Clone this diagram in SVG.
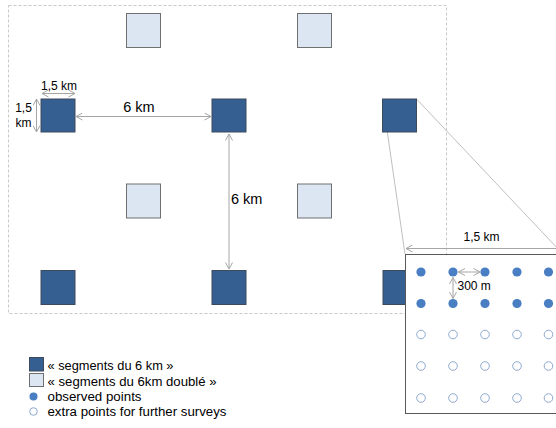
<svg xmlns="http://www.w3.org/2000/svg" width="556" height="428" viewBox="0 0 556 428">
<defs>
<style>
.dark{fill:#355E91;stroke:#3D4A5C;stroke-width:1}
.light{fill:#DCE6F2;stroke:#707070;stroke-width:1}
.dim{stroke:#A6A6A6;stroke-width:1;fill:none;marker-start:url(#ah);marker-end:url(#ah)}
.zoom{stroke:#BFBFBF;stroke-width:1;fill:none}
.lbl{font-family:"Liberation Sans",Arial,sans-serif;fill:#000}
.leg{font-family:"Liberation Sans",Arial,sans-serif;font-size:13.5px;fill:#000}
.obs{fill:#4A7EC2}
.ext{fill:#fff;stroke:#8EA9D0;stroke-width:1}
</style>
<marker id="ah" viewBox="0 0 8 8" refX="7.5" refY="4" markerWidth="8" markerHeight="8" markerUnits="userSpaceOnUse" orient="auto-start-reverse">
<path d="M1,0.5 L7.5,4 L1,7.5" fill="none" stroke="#A6A6A6" stroke-width="1"/>
</marker>
</defs>
<rect width="556" height="428" fill="#fff"/>
<rect id="frame" x="8.5" y="5.5" width="438" height="308" fill="none" stroke="#C8C8C8" stroke-width="1" stroke-dasharray="3,2"/>

<g id="connectors">
<line class="zoom" x1="382.5" y1="99" x2="405" y2="254"/>
<line class="zoom" x1="416.5" y1="99" x2="560" y2="251"/>
<line class="dim" x1="42" y1="93.5" x2="75" y2="93.5"/>
<line class="dim" x1="36.5" y1="99" x2="36.5" y2="132"/>
<line class="dim" x1="76" y1="116.5" x2="211" y2="116.5"/>
<line class="dim" x1="229" y1="134" x2="229" y2="269"/>
</g>

<g id="seg-dark">
<rect class="dark" x="41" y="99" width="34" height="33"/>
<rect class="dark" x="212" y="99" width="34" height="33"/>
<rect class="dark" x="382.5" y="99" width="34" height="33"/>
<rect class="dark" x="41" y="270.5" width="34" height="34"/>
<rect class="dark" x="212" y="270.5" width="34" height="34"/>
<rect class="dark" x="383" y="270.5" width="34" height="34"/>
</g>
<g id="seg-light">
<rect class="light" x="126.5" y="13.5" width="34" height="34"/>
<rect class="light" x="297.5" y="13.5" width="34" height="34"/>
<rect class="light" x="126.5" y="184" width="34" height="34"/>
<rect class="light" x="297.5" y="184" width="34" height="34"/>
</g>

<g id="labels">
<text class="lbl" x="59" y="89.5" font-size="12" text-anchor="middle">1,5 km</text>
<text class="lbl" x="23.5" y="111.5" font-size="12" text-anchor="middle">1,5</text>
<text class="lbl" x="23.5" y="127" font-size="12" text-anchor="middle">km</text>
<text class="lbl" x="139" y="111.5" font-size="14.5" text-anchor="middle">6 km</text>
<text class="lbl" x="231" y="203.5" font-size="14.5">6 km</text>
</g>

<g id="inset">
<rect x="405.5" y="254.5" width="160" height="159" fill="#fff" stroke="#595959" stroke-width="1"/>
<line class="dim" x1="406" y1="248.5" x2="566" y2="248.5"/>
<text class="lbl" x="481.5" y="241" font-size="12" text-anchor="middle">1,5 km</text>
<g id="observed">
<circle class="obs" cx="421" cy="272" r="4.6"/>
<circle class="obs" cx="453" cy="272" r="4.6"/>
<circle class="obs" cx="485" cy="272" r="4.6"/>
<circle class="obs" cx="517" cy="272" r="4.6"/>
<circle class="obs" cx="548.5" cy="272" r="4.6"/>
<circle class="obs" cx="421" cy="303.5" r="4.6"/>
<circle class="obs" cx="453" cy="303.5" r="4.6"/>
<circle class="obs" cx="485" cy="303.5" r="4.6"/>
<circle class="obs" cx="517" cy="303.5" r="4.6"/>
<circle class="obs" cx="548.5" cy="303.5" r="4.6"/>
</g>
<g id="extra">
<circle class="ext" cx="421" cy="334.5" r="4.3"/>
<circle class="ext" cx="453" cy="334.5" r="4.3"/>
<circle class="ext" cx="485" cy="334.5" r="4.3"/>
<circle class="ext" cx="517" cy="334.5" r="4.3"/>
<circle class="ext" cx="548.5" cy="334.5" r="4.3"/>
<circle class="ext" cx="421" cy="366" r="4.3"/>
<circle class="ext" cx="453" cy="366" r="4.3"/>
<circle class="ext" cx="485" cy="366" r="4.3"/>
<circle class="ext" cx="517" cy="366" r="4.3"/>
<circle class="ext" cx="548.5" cy="366" r="4.3"/>
<circle class="ext" cx="421" cy="398" r="4.3"/>
<circle class="ext" cx="453" cy="398" r="4.3"/>
<circle class="ext" cx="485" cy="398" r="4.3"/>
<circle class="ext" cx="517" cy="398" r="4.3"/>
<circle class="ext" cx="548.5" cy="398" r="4.3"/>
</g>
<line class="dim" x1="458.5" y1="272" x2="480" y2="272"/>
<line class="dim" x1="453" y1="277.5" x2="453" y2="298.5"/>
<text class="lbl" x="457.5" y="290" font-size="12">300 m</text>
</g>

<g id="legend">
<rect class="dark" x="29.5" y="357.5" width="14" height="13.5"/>
<text class="leg" x="47.5" y="370" textLength="126" lengthAdjust="spacingAndGlyphs">« segments du 6 km »</text>
<rect class="light" x="29.5" y="373.5" width="14" height="13"/>
<text class="leg" x="47.5" y="385.5" textLength="169" lengthAdjust="spacingAndGlyphs">« segments du 6km doublé »</text>
<circle class="obs" cx="33.5" cy="396.5" r="4"/>
<text class="leg" x="47.5" y="401" textLength="94" lengthAdjust="spacingAndGlyphs">observed points</text>
<circle class="ext" cx="33.5" cy="411.5" r="3.8"/>
<text class="leg" x="47.5" y="416" textLength="179" lengthAdjust="spacingAndGlyphs">extra points for further surveys</text>
</g>
</svg>
